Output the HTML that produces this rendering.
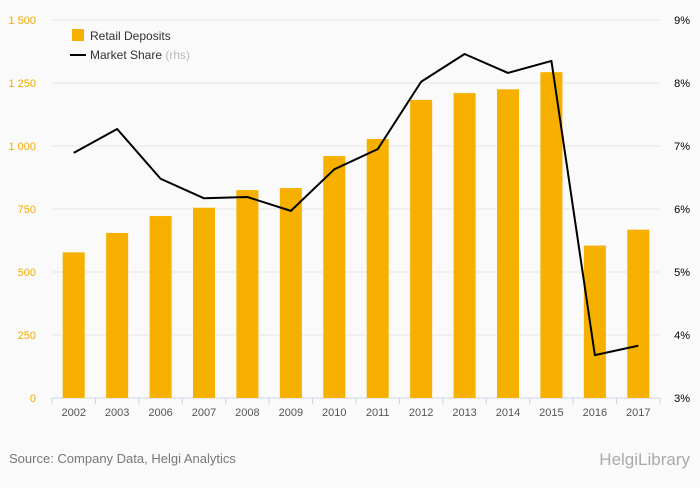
<!DOCTYPE html>
<html><head><meta charset="utf-8"><style>
body{margin:0;background:#fafafa;font-family:"Liberation Sans",sans-serif}
#wrap{position:relative;width:700px;height:483px;background:#fafafa}
svg text{font-family:"Liberation Sans",sans-serif}
</style></head><body>
<div id="wrap">
<svg id="chart" width="700" height="483"></svg>
</div>
<script>
const categories=["2002","2003","2006","2007","2008","2009","2010","2011","2012","2013","2014","2015","2016","2017"];
const deposits=[578,655,722,755,825,833,960,1028,1183,1210,1225,1293,605,668];
const share=[6.89,7.27,6.48,6.17,6.19,5.97,6.63,6.95,8.02,8.46,8.16,8.35,3.68,3.83];
const leftTicks=[0,250,500,750,1000,1250,1500];
const leftLabels=["0","250","500","750","1 000","1 250","1 500"];
const rightTicks=[3,4,5,6,7,8,9];
const NS="http://www.w3.org/2000/svg";
const svg=document.getElementById('chart');
const X0=52,X1=660,Y0=398,Y1=20;
const band=(X1-X0)/categories.length;
function xc(i){return X0+band*(i+0.5);}
function yl(v){return Y0-(v/1500)*(Y0-Y1);}
function yr(v){return Y0-((v-3)/6)*(Y0-Y1);}
function mk(t,a){const e=document.createElementNS(NS,t);for(const k in a)e.setAttribute(k,a[k]);svg.appendChild(e);return e;}
leftTicks.forEach((t,i)=>{
 const g=mk('line',{x1:X0,x2:X1,y1:yl(t),y2:yl(t),stroke:t===0?'#ccd6eb':'#e6e6e6','stroke-width':1});
 
 
 const tx=mk('text',{x:36,y:yl(t)+4,'text-anchor':'end','font-size':11,fill:'#f0ac00'});
 tx.textContent=leftLabels[i];
 
 
});
rightTicks.forEach(t=>{
 const tx=mk('text',{x:690,y:yr(t)+4,'text-anchor':'end','font-size':11,fill:'#000'});
 tx.textContent=t+'%';
 
 
});
let t0=mk('line',{x1:X0,x2:X0,y1:Y0,y2:Y0+6,stroke:'#ccd6eb'});


categories.forEach((c,i)=>{
 const r=mk('rect',{x:xc(i)-11,y:yl(deposits[i]),width:22,height:Y0-yl(deposits[i]),fill:'#f7b000'});
 
 
 const tk=mk('line',{x1:X0+band*(i+1),x2:X0+band*(i+1),y1:Y0,y2:Y0+6,stroke:'#ccd6eb'});
 
 
 const tx=mk('text',{x:xc(i),y:416,'text-anchor':'middle','font-size':11,fill:'#555'});
 tx.textContent=c;
 
 
});
const pts=share.map((v,i)=>xc(i)+','+yr(v)).join(' ');
const pl=mk('polyline',{points:pts,fill:'none',stroke:'#000','stroke-width':2,'stroke-linejoin':'round'});


let e=mk('rect',{x:72,y:29,width:12,height:12,fill:'#f7b000'});


e=mk('text',{x:90,y:40,'font-size':12,fill:'#333'});e.textContent='Retail Deposits';


e=mk('line',{x1:70,x2:86,y1:55,y2:55,stroke:'#000','stroke-width':2});


e=mk('text',{x:90,y:59,'font-size':12,fill:'#333'});e.innerHTML='Market Share <tspan fill="#bbb">(rhs)</tspan>';


e=mk('text',{x:9,y:463,'font-size':13,fill:'#777'});e.textContent='Source: Company Data, Helgi Analytics';


e=mk('text',{x:690,y:465,'text-anchor':'end','font-size':17,fill:'#aaa'});e.textContent='HelgiLibrary';


</script>
</body></html>
